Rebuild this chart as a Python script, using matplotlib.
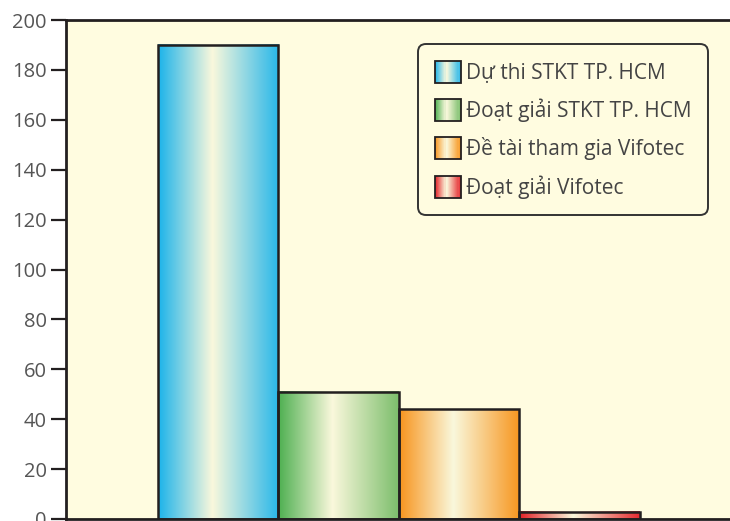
import matplotlib
matplotlib.use('Agg')
import matplotlib.pyplot as plt
import numpy as np
from matplotlib.colors import LinearSegmentedColormap
from matplotlib.legend_handler import HandlerBase
from matplotlib.patches import Rectangle

categories = ['Dự thi STKT TP. HCM', 'Đoạt giải STKT TP. HCM',
              'Đề tài tham gia Vifotec', 'Đoạt giải Vifotec']
values = [190, 51, 44, 3]
yticks = [0, 20, 40, 60, 80, 100, 120, 140, 160, 180, 200]
left_colors = ['#1BB3EA', '#4DAF50', '#F7941D', '#E31E25']
right_colors = ['#28B7EA', '#7CBE6C', '#F7961F', '#E52A30']
cream = '#FAF8DC'
bg = '#FFFCE0'

plt.rcParams['font.family'] = ['Open Sans', 'DejaVu Sans']
tick_fs = 14.5
leg_fs = 15

fig = plt.figure(figsize=(7.3, 5.21), dpi=100, facecolor='white')
ax = fig.add_axes([66/730, 2/521, 1 - 66/730, (519-20)/521])
ax.set_facecolor(bg)

x = np.arange(len(values))
bars = ax.bar(x, values, width=1.0, color='none', edgecolor='#231F20',
              linewidth=1.8, zorder=3)

def make_cmap(i):
    return LinearSegmentedColormap.from_list(
        f'g{i}', [(0, left_colors[i]), (0.45, cream), (1, right_colors[i])])

grad = np.linspace(0, 1, 256).reshape(1, -1)
for i, r in enumerate(bars):
    x0, w, h = r.get_x(), r.get_width(), r.get_height()
    ax.imshow(grad, extent=[x0, x0 + w, 0, h], aspect='auto',
              cmap=make_cmap(i), zorder=2, interpolation='bilinear')

ax.set_xlim(-1.263, 4.247)
ax.set_ylim(0, 200)
ax.set_xticks([])
ax.set_yticks(yticks)
ax.tick_params(axis='y', direction='out', length=11, width=1.6,
               color='#231F20', labelsize=tick_fs, labelcolor='#555555', pad=3)
for s in ['left', 'top', 'bottom']:
    ax.spines[s].set_linewidth(2.0)
    ax.spines[s].set_color('#231F20')
ax.spines['right'].set_visible(False)


class GradHandle(Rectangle):
    def __init__(self, idx):
        super().__init__((0, 0), 1, 1)
        self.idx = idx


class GradHandler(HandlerBase):
    def create_artists(self, legend, orig_handle, xdescent, ydescent,
                       width, height, fontsize, trans):
        cmap = make_cmap(orig_handle.idx)
        n = 24
        arts = []
        for k in range(n):
            c = cmap((k + 0.5) / n)
            arts.append(Rectangle((-xdescent + width * k / n, -ydescent),
                                  width / n * 1.05, height, facecolor=c,
                                  edgecolor='none', transform=trans))
        arts.append(Rectangle((-xdescent, -ydescent), width, height,
                              facecolor='none', edgecolor='#231F20',
                              linewidth=1.3, transform=trans))
        return arts


fs_px = leg_fs * 100 / 72
handles = [GradHandle(i) for i in range(len(categories))]
leg = ax.legend(handles, categories, handler_map={GradHandle: GradHandler()},
                loc='upper left', bbox_to_anchor=(418/730, 1 - 44/521),
                bbox_transform=fig.transFigure, borderaxespad=0,
                fontsize=leg_fs, handlelength=26/fs_px,
                handleheight=26/fs_px,
                handletextpad=0.25, labelspacing=0.72, borderpad=0.8,
                frameon=True, fancybox=True, framealpha=1,
                facecolor=bg, edgecolor='#333333')
leg.get_frame().set_linewidth(1.4)
leg.get_frame().set_boxstyle('round,pad=0,rounding_size=0.4')
for t in leg.get_texts():
    t.set_color('#444444')

fig.savefig('out.png', dpi=100, facecolor='white')
